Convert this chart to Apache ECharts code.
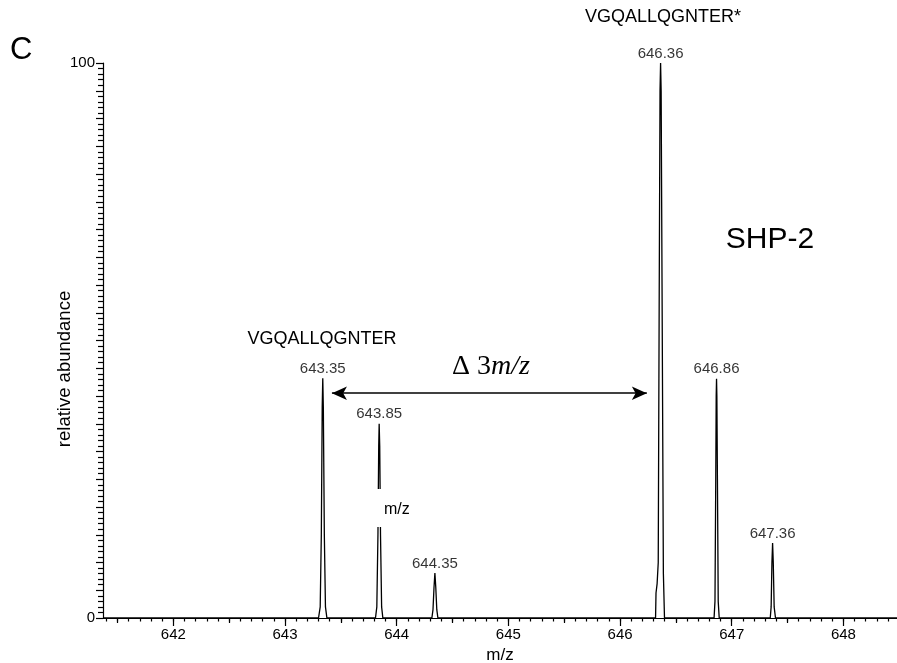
<!DOCTYPE html>
<html>
<head>
<meta charset="utf-8">
<script src="https://cdn.jsdelivr.net/npm/echarts@6/dist/echarts.min.js"></script>
<style>
  html, body { margin: 0; padding: 0; background: #fff; }
  #main { width: 897px; height: 663px; }
</style>
</head>
<body>
<div id="main"></div>
<script>
// spectrum trace, [m/z, relative abundance]
const spectrum = [
  [641.37, 0],
  [643.300, 0], [643.315, 2], [643.325, 15], [643.333, 38], [643.338, 43.2],
  [643.343, 38], [643.352, 15], [643.362, 2], [643.375, 0],
  [643.810, 0], [643.822, 2], [643.832, 15], [643.839, 31], [643.843, 35],
  [643.848, 31], [643.855, 15], [643.865, 2], [643.876, 0],
  [644.315, 0], [644.325, 1.5], [644.334, 5.5], [644.342, 8.1], [644.350, 5.5],
  [644.359, 1.5], [644.369, 0],
  [646.318, 0], [646.322, 4.5], [646.332, 6.2], [646.342, 10], [646.351, 60],
  [646.358, 95], [646.363, 100], [646.368, 95], [646.376, 60], [646.388, 8], [646.398, 0],
  [646.842, 0], [646.850, 3], [646.857, 25], [646.861, 40], [646.864, 43.1],
  [646.867, 40], [646.872, 25], [646.879, 3], [646.888, 0],
  [647.345, 0], [647.353, 2], [647.360, 10], [647.366, 13.5], [647.372, 10],
  [647.380, 2], [647.392, 0],
  [648.48, 0]
]

// labelled peak tops
const peakMz = [643.338, 643.843, 644.342, 646.363, 646.864, 647.366]
const peakHeight = [43.2, 35, 8.1, 100, 43.1, 13.5]
const peakLabels = ['643.35', '643.85', '644.35', '646.36', '646.86', '647.36']

// delta arrow between the two monoisotopic peaks
const arrowFrom = [643.42, 40.5]
const arrowTo = [646.24, 40.5]

// axis ticks
const xLabels = [642, 643, 644, 645, 646, 647, 648]
const xHalfTicks = [641.5, 642.5, 643.5, 644.5, 645.5, 646.5, 647.5]
const xMinorTicks = []
for (let i = 6414; i <= 6484; i++) xMinorTicks.push(i / 10)

const font = 'Liberation Sans, Arial, sans-serif'
const serif = 'Liberation Serif, Times New Roman, serif'
const xMin = 641.37
const xMax = 648.48

const chart = echarts.init(document.getElementById('main'))

const option = {
  backgroundColor: '#fff',
  animation: false,
  grid: { left: 103, right: 0, top: 63, bottom: 45, containLabel: false, outerBoundsMode: 'none' },
  xAxis: [
    {
      type: 'value',
      min: xMin,
      max: xMax,
      name: 'm/z',
      nameLocation: 'middle',
      nameGap: 28,
      nameTextStyle: { fontFamily: font, fontSize: 17, color: '#000' },
      axisLine: { lineStyle: { color: '#000', width: 1.2 } },
      axisTick: { customValues: xLabels, length: 8, lineStyle: { color: '#000', width: 1.2 } },
      axisLabel: { customValues: xLabels, margin: 9, fontFamily: font, fontSize: 15, color: '#000' },
      splitLine: { show: false }
    },
    {
      type: 'value',
      min: xMin,
      max: xMax,
      position: 'bottom',
      axisLine: { show: false },
      axisTick: { customValues: xHalfTicks, length: 5, lineStyle: { color: '#000', width: 1.2 } },
      axisLabel: { show: false },
      splitLine: { show: false }
    },
    {
      type: 'value',
      min: xMin,
      max: xMax,
      position: 'bottom',
      axisLine: { show: false },
      axisTick: { customValues: xMinorTicks, length: 3.5, lineStyle: { color: '#000', width: 1.2 } },
      axisLabel: { show: false },
      splitLine: { show: false }
    }
  ],
  yAxis: {
    type: 'value',
    min: 0,
    max: 100,
    interval: 5,
    axisLine: { show: true, lineStyle: { color: '#000', width: 1.2 } },
    axisTick: { show: true, length: 7, lineStyle: { color: '#000', width: 1.2 } },
    minorTick: { show: true, splitNumber: 5, length: 5, lineStyle: { color: '#000', width: 1.2 } },
    axisLabel: {
      margin: 8,
      fontFamily: font,
      fontSize: 15,
      color: '#000',
      formatter: (v) => (v === 0 || v === 100 ? String(v) : '')
    },
    splitLine: { show: false },
    minorSplitLine: { show: false }
  },
  series: [
    {
      type: 'line',
      data: spectrum,
      showSymbol: false,
      symbol: 'none',
      clip: false,
      lineStyle: { color: '#000', width: 1.3 },
      z: 3,
      markLine: {
        silent: true,
        symbol: ['arrow', 'arrow'],
        symbolSize: [10, 15],
        label: { show: false },
        lineStyle: { color: '#000', width: 1.5, type: 'solid' },
        data: [[{ coord: arrowFrom }, { coord: arrowTo }]]
      }
    },
    {
      type: 'scatter',
      symbolSize: 0,
      clip: false,
      silent: true,
      data: peakMz.map((m, i) => ({ value: [m, peakHeight[i]], name: peakLabels[i] })),
      label: {
        show: true,
        position: 'top',
        distance: 2,
        formatter: (p) => p.name,
        fontFamily: font,
        fontSize: 15,
        color: '#000'
      }
    }
  ],
  graphic: [
    { type: 'text', left: 10, top: 35, z: 100, style: { text: 'C', fontFamily: font, fontSize: 31, fill: '#000' } },
    { type: 'text', x: 663, y: 17, z: 100, style: { text: 'VGQALLQGNTER*', fontFamily: font, fontSize: 18, fill: '#000', align: 'center', verticalAlign: 'middle' } },
    { type: 'text', x: 322, y: 339, z: 100, style: { text: 'VGQALLQGNTER', fontFamily: font, fontSize: 18, fill: '#000', align: 'center', verticalAlign: 'middle' } },
    { type: 'text', x: 770, y: 240, z: 100, style: { text: 'SHP-2', fontFamily: font, fontSize: 30, fill: '#000', align: 'center', verticalAlign: 'middle' } },
    {
      type: 'text', x: 65, y: 369, rotation: Math.PI / 2, z: 100,
      style: { text: 'relative abundance', fontFamily: font, fontSize: 18.5, fill: '#000', align: 'center', verticalAlign: 'middle' }
    },
    {
      type: 'text', x: 491, y: 367, z: 100,
      style: {
        text: '{n|Δ 3}{i|m/z}',
        align: 'center',
        verticalAlign: 'middle',
        rich: {
          n: { fontFamily: serif, fontSize: 28, fill: '#000' },
          i: { fontFamily: serif, fontSize: 28, fontStyle: 'italic', fill: '#000' }
        }
      }
    },
    { type: 'rect', z: 100, shape: { x: 370, y: 489, width: 44, height: 38 }, style: { fill: '#fff' } },
    { type: 'text', x: 384, y: 510, z: 101, style: { text: 'm/z', fontFamily: font, fontSize: 16, fill: '#000', verticalAlign: 'middle' } }
  ]
}

chart.setOption(option)
</script>
</body>
</html>
